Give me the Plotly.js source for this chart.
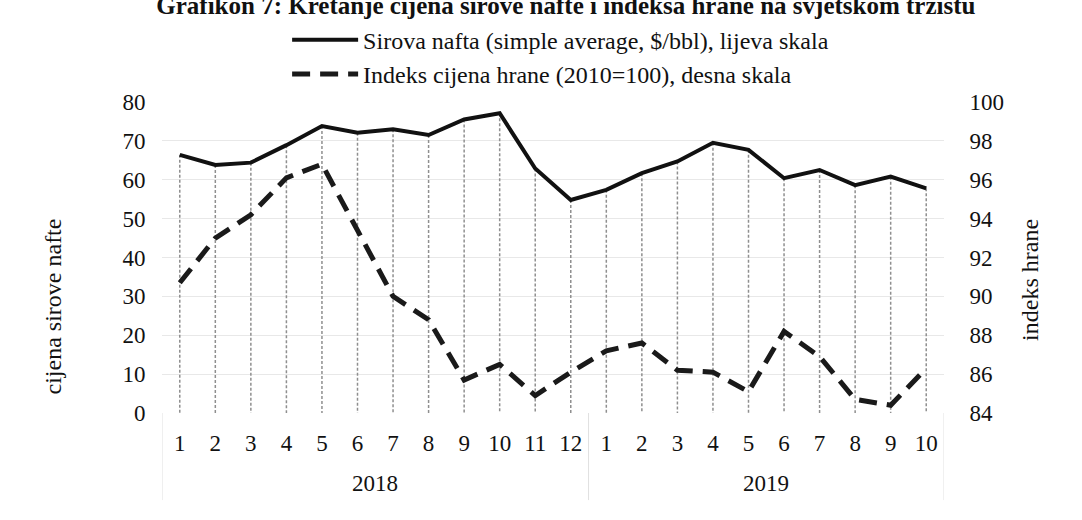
<!DOCTYPE html>
<html>
<head>
<meta charset="utf-8">
<script src="https://cdn.plot.ly/plotly-3.0.1.min.js"></script>
<style>html,body{margin:0;padding:0;background:#fff;}#chart{width:1082px;height:520px;}</style>
</head>
<body>
<div id="chart"></div>
<script>
const years = ["2018","2018","2018","2018","2018","2018","2018","2018","2018","2018","2018","2018",
               "2019","2019","2019","2019","2019","2019","2019","2019","2019","2019"];
const months = ["1","2","3","4","5","6","7","8","9","10","11","12",
                "1","2","3","4","5","6","7","8","9","10"];
const oilPrice = [66.4,63.8,64.4,68.9,73.8,72.1,73.0,71.5,75.5,77.1,62.9,54.8,
                  57.4,61.7,64.7,69.5,67.7,60.4,62.5,58.6,60.8,57.8];
const foodIndex = [90.7,93.0,94.2,96.1,96.8,93.4,90.0,88.8,85.7,86.5,84.9,86.1,
                   87.2,87.6,86.2,86.1,85.1,88.2,86.9,84.7,84.4,86.3];
const oilName = "Sirova nafta (simple average, $/bbl), lijeva skala";
const foodName = "Indeks cijena hrane (2010=100), desna skala";
const titleText = "Grafikon 7: Kretanje cijena sirove nafte i indeksa hrane na svjetskom tržištu";
const leftTitle = "cijena sirove nafte";
const rightTitle = "indeks hrane";

const idx = months.map((m, i) => i);

// drop lines from oil points down to 0
const dropX = [], dropY = [];
for (let i = 0; i < oilPrice.length; i++) {
  dropX.push(idx[i], idx[i], null);
  dropY.push(oilPrice[i], 0, null);
}

// year groups: label at centre, dividers at boundaries
const groups = [];
years.forEach((y, i) => {
  const g = groups[groups.length - 1];
  if (!g || g.year !== y) groups.push({year: y, start: i, end: i});
  else g.end = i;
});

const font = "Liberation Serif, Times New Roman, serif";
const tc = "#111";

const annotations = [
  {text: leftTitle, xref: "paper", yref: "paper", x: -0.14, y: 0.341, textangle: -90,
   showarrow: false, xanchor: "center", yanchor: "middle", font: {family: font, size: 24, color: tc}},
  {text: rightTitle, xref: "paper", yref: "paper", x: 1.11, y: 0.428, textangle: -90,
   showarrow: false, xanchor: "center", yanchor: "middle", font: {family: font, size: 24, color: tc}}
];
const shapes = [];
groups.forEach((g, k) => {
  annotations.push({text: g.year, xref: "x", yref: "paper", x: (g.start + g.end) / 2, y: -0.228,
    showarrow: false, xanchor: "center", yanchor: "middle", font: {family: font, size: 23, color: tc}});
  if (k === 0) shapes.push({type: "line", xref: "x", yref: "paper", x0: g.start - 0.5, x1: g.start - 0.5,
    y0: 0, y1: -0.28, line: {color: "#e0e0e0", width: 1}});
  shapes.push({type: "line", xref: "x", yref: "paper", x0: g.end + 0.5, x1: g.end + 0.5,
    y0: 0, y1: -0.28, line: {color: "#e0e0e0", width: 1}});
});

const traces = [
  {x: dropX, y: dropY, type: "scatter", mode: "lines", showlegend: false,
   hoverinfo: "skip", connectgaps: false,
   line: {color: "#8f8f8f", width: 1.5, dash: "3px,2px"}},
  {x: idx, y: oilPrice, type: "scatter", mode: "lines", name: oilName,
   line: {color: "#111", width: 4}},
  {x: idx, y: foodIndex, type: "scatter", mode: "lines", name: foodName,
   yaxis: "y2", line: {color: "#1a1a1a", width: 5, dash: "18px,10px"}}
];

const layout = {
  width: 1082, height: 520,
  margin: {l: 162, r: 138, t: 102, b: 107, autoexpand: false},
  paper_bgcolor: "#fff", plot_bgcolor: "#fff",
  font: {family: font, size: 23, color: tc},
  title: {text: "<b>" + titleText + "</b>", x: 0.523, xanchor: "center", xref: "container",
          y: 0.99, yanchor: "middle", yref: "container", font: {family: font, size: 25, color: tc}},
  showlegend: true,
  legend: {orientation: "v", x: 0.16, xanchor: "left", xref: "paper", y: 0.966, yanchor: "top",
           yref: "container", font: {family: font, size: 24, color: tc},
           bgcolor: "rgba(0,0,0,0)", itemwidth: 66, tracegroupgap: 0},
  xaxis: {range: [-0.5, idx.length - 0.5], tickmode: "array", tickvals: idx, ticktext: months,
          showgrid: false, zeroline: false, showline: false, automargin: false,
          ticks: "outside", ticklen: 9, tickcolor: "rgba(0,0,0,0)",
          tickfont: {family: font, size: 23, color: tc}},
  yaxis: {range: [0, 80], dtick: 10, showgrid: true, gridcolor: "#e8e8e8", gridwidth: 1,
          zeroline: false, showline: false, ticks: "outside", ticklen: 11, tickcolor: "rgba(0,0,0,0)",
          automargin: false, tickfont: {family: font, size: 23, color: tc}},
  yaxis2: {range: [84, 100], dtick: 2, overlaying: "y", side: "right", showgrid: false,
           zeroline: false, showline: false, ticks: "outside", ticklen: 20, tickcolor: "rgba(0,0,0,0)",
           automargin: false, tickfont: {family: font, size: 23, color: tc}},
  annotations: annotations,
  shapes: shapes
};

Plotly.newPlot("chart", traces, layout, {displayModeBar: false, staticPlot: true});
</script>
</body>
</html>
